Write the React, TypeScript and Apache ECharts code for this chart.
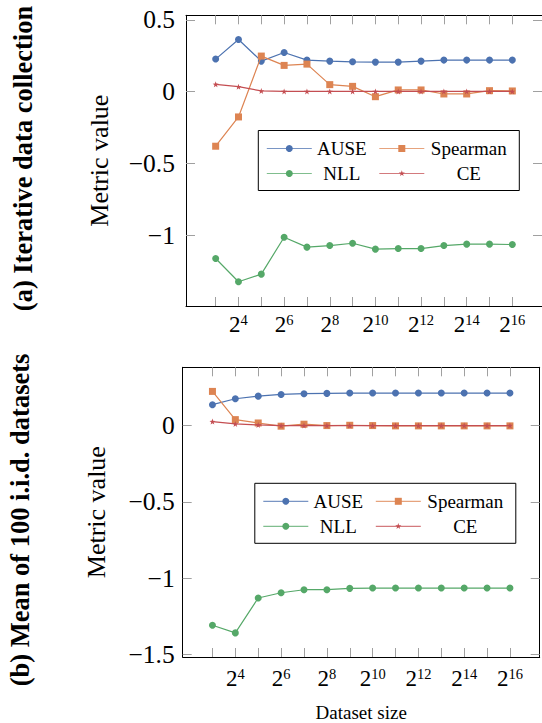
import React, { useEffect, useRef } from "react";
import * as echarts from "echarts";

const exps = [3, 4, 5, 6, 7, 8, 9, 10, 11, 12, 13, 14, 15, 16];
const xTickValues = [3, 4, 5, 6, 7, 8, 9, 10, 11, 12, 13, 14, 15, 16];
const xLabelValues = [4, 6, 8, 10, 12, 14, 16];
const yTicksTop = [0.5, 0, -0.5, -1];
const yTicksBottom = [0, -0.5, -1, -1.5];

const seriesNames = ["AUSE", "Spearman", "NLL", "CE"];
const colors = ["#4C72B0", "#DD8452", "#55A868", "#C44E52"];

// (a) Iterative data collection
const topAUSE = [0.227, 0.363, 0.213, 0.273, 0.22, 0.213, 0.208, 0.206, 0.206, 0.213, 0.22, 0.22, 0.22, 0.22];
const topSpearman = [-0.38, -0.176, 0.248, 0.183, 0.192, 0.049, 0.037, -0.035, 0.012, 0.012, -0.016, -0.016, 0.007, 0.005];
const topNLL = [-1.162, -1.324, -1.271, -1.014, -1.083, -1.072, -1.056, -1.097, -1.093, -1.093, -1.072, -1.062, -1.062, -1.065];
const topCE = [0.051, 0.035, 0.005, 0.002, 0.002, 0.002, 0.002, 0.002, 0.002, 0.002, 0.002, 0.002, 0.002, 0.002];

// (b) Mean of 100 i.i.d. datasets
const botAUSE = [0.137, 0.176, 0.193, 0.204, 0.209, 0.211, 0.213, 0.213, 0.213, 0.213, 0.213, 0.213, 0.213, 0.213];
const botSpearman = [0.224, 0.039, 0.017, -0.004, 0.009, 0.0, 0.002, 0.0, -0.002, -0.002, -0.002, -0.002, -0.002, -0.002];
const botNLL = [-1.309, -1.359, -1.13, -1.096, -1.076, -1.076, -1.067, -1.065, -1.065, -1.065, -1.065, -1.065, -1.065, -1.065];
const botCE = [0.026, 0.011, 0.004, 0.0, 0.0, 0.0, 0.0, 0.0, 0.0, 0.0, 0.0, 0.0, 0.0, 0.0];

const SERIF = "'Liberation Serif', 'DejaVu Serif', serif";
const STAR =
  "path://M0,-10 L2.35,-3.24 L9.51,-3.09 L3.8,1.24 L5.88,8.09 L0,4 L-5.88,8.09 L-3.8,1.24 L-9.51,-3.09 L-2.35,-3.24 Z";
const symbols = ["circle", "rect", "circle", STAR];
const symbolSizes = [7, 7, 7, 6];

function fmtY(v: number) {
  if (v === 0) return "0";
  return String(v).replace("-", "\u2212");
}

function makeXAxes(grid: number, labelMargin: number, withName: boolean) {
  const tickStyle = { show: true, inside: true, length: 9, lineStyle: { color: "#a0a0a0", width: 1 }, customValues: xTickValues };
  return [
    {
      type: "value",
      gridIndex: grid,
      position: "bottom",
      min: 1.7,
      max: 17.3,
      axisLine: { show: true, onZero: false, lineStyle: { color: "#000", width: 1 } },
      axisTick: tickStyle,
      splitLine: { show: false },
      axisLabel: {
        show: true,
        margin: labelMargin,
        customValues: xLabelValues,
        formatter: (v: number) => `{b|2}{s|${v}}`,
        rich: {
          b: { fontFamily: SERIF, fontSize: 23, color: "#000", lineHeight: 24, verticalAlign: "bottom" },
          s: { fontFamily: SERIF, fontSize: 14.5, color: "#000", lineHeight: 14, verticalAlign: "top" },
        },
      },
      name: withName ? "Dataset size" : "",
      nameLocation: "middle",
      nameGap: 46,
      nameTextStyle: { fontFamily: SERIF, fontSize: 19, color: "#000" },
    },
    {
      type: "value",
      gridIndex: grid,
      position: "top",
      min: 1.7,
      max: 17.3,
      axisLine: { show: true, onZero: false, lineStyle: { color: "#000", width: 1 } },
      axisTick: tickStyle,
      splitLine: { show: false },
      axisLabel: { show: false },
    },
  ];
}

function makeYAxes(grid: number, min: number, max: number, ticks: number[], labelMargin: number, nameGap: number) {
  const tickStyle = { show: true, inside: true, length: 9, lineStyle: { color: "#a0a0a0", width: 1 }, customValues: ticks };
  return [
    {
      type: "value",
      gridIndex: grid,
      position: "left",
      min,
      max,
      axisLine: { show: true, onZero: false, lineStyle: { color: "#000", width: 1 } },
      axisTick: tickStyle,
      splitLine: { show: false },
      axisLabel: {
        show: true,
        margin: labelMargin,
        customValues: ticks,
        formatter: fmtY,
        fontFamily: SERIF,
        fontSize: 25.5,
        color: "#000",
      },
      name: "Metric value",
      nameLocation: "middle",
      nameRotate: 90,
      nameGap,
      nameTextStyle: { fontFamily: SERIF, fontSize: 26, color: "#000" },
    },
    {
      type: "value",
      gridIndex: grid,
      position: "right",
      min,
      max,
      axisLine: { show: true, onZero: false, lineStyle: { color: "#000", width: 1 } },
      axisTick: tickStyle,
      splitLine: { show: false },
      axisLabel: { show: false },
    },
  ];
}

function makeSeries(grid: number, arrays: number[][]) {
  return arrays.map((vals, i) => ({
    type: "line",
    name: seriesNames[i],
    xAxisIndex: grid * 2,
    yAxisIndex: grid * 2,
    data: exps.map((e, j) => [e, vals[j]]),
    symbol: symbols[i],
    symbolSize: symbolSizes[i],
    showAllSymbol: true,
    lineStyle: { color: colors[i], width: 1.2 },
    itemStyle: { color: colors[i] },
    z: 2 + i,
  }));
}

function starPoints(cx: number, cy: number, r: number) {
  const pts: number[][] = [];
  for (let k = 0; k < 10; k++) {
    const rr = k % 2 === 0 ? r : r * 0.4;
    const a = -Math.PI / 2 + (k * Math.PI) / 5;
    pts.push([cx + rr * Math.cos(a), cy + rr * Math.sin(a)]);
  }
  return pts;
}

function makeLegend(x: number, y: number) {
  const children: any[] = [
    { type: "rect", shape: { x: 0, y: 0, width: 261, height: 60 }, style: { fill: "#fff", stroke: "#000", lineWidth: 1 } },
  ];
  const cols = [
    { l0: 8.5, l1: 53.5, m: 31, t: 83.5 },
    { l0: 121, l1: 166, m: 143.5, t: 210.5 },
  ];
  const rows = [18, 43];
  seriesNames.forEach((name, i) => {
    const c = cols[i % 2];
    const ry = rows[Math.floor(i / 2)];
    children.push({
      type: "line",
      shape: { x1: c.l0, y1: ry, x2: c.l1, y2: ry },
      style: { stroke: colors[i], lineWidth: 1.2, opacity: 0.75 },
    });
    if (i === 0 || i === 2) {
      children.push({ type: "circle", shape: { cx: c.m, cy: ry, r: 3.5 }, style: { fill: colors[i] } });
    } else if (i === 1) {
      children.push({ type: "rect", shape: { x: c.m - 3.5, y: ry - 3.5, width: 7, height: 7 }, style: { fill: colors[i] } });
    } else {
      children.push({ type: "polygon", shape: { points: starPoints(c.m, ry, 3.2) }, style: { fill: colors[i] } });
    }
    children.push({
      type: "text",
      x: c.t,
      y: ry,
      style: { text: name, fontFamily: SERIF, fontSize: 19, fill: "#000", textAlign: "center", textVerticalAlign: "middle" },
    });
  });
  return { type: "group", x, y, z: 100, children };
}

export default function App() {
  const ref = useRef<HTMLDivElement>(null);
  useEffect(() => {
    if (!ref.current) return;
    const chart = echarts.init(ref.current, undefined, { renderer: "svg" });
    chart.setOption({
      animation: false,
      backgroundColor: "#fff",
      grid: [
        { left: 186, top: 15.3, width: 358, height: 290.7 },
        { left: 182.7, top: 367.3, width: 357, height: 291.2 },
      ],
      xAxis: [...makeXAxes(0, 6, false), ...makeXAxes(1, 9, true)],
      yAxis: [
        ...makeYAxes(0, -1.493, 0.532, yTicksTop, 11, 74),
        ...makeYAxes(1, -1.517, 0.382, yTicksBottom, 8, 73),
      ],
      series: [
        ...makeSeries(0, [topAUSE, topSpearman, topNLL, topCE]),
        ...makeSeries(1, [botAUSE, botSpearman, botNLL, botCE]),
      ],
      graphic: [
        makeLegend(258.3, 130.5),
        makeLegend(254.8, 483.3),
        {
          type: "text",
          x: 22.5,
          y: 158.5,
          rotation: Math.PI / 2,
          style: {
            text: "(a) Iterative data collection",
            fontFamily: SERIF,
            fontWeight: "bold",
            fontSize: 26.5,
            fill: "#000",
            textAlign: "center",
            textVerticalAlign: "middle",
          },
        },
        {
          type: "text",
          x: 20,
          y: 520,
          rotation: Math.PI / 2,
          style: {
            text: "(b) Mean of 100 i.i.d. datasets",
            fontFamily: SERIF,
            fontWeight: "bold",
            fontSize: 26.5,
            fill: "#000",
            textAlign: "center",
            textVerticalAlign: "middle",
          },
        },
      ],
    });
    return () => chart.dispose();
  }, []);
  return (
    <div
      ref={ref}
      style={{ position: "absolute", left: 0, top: 0, width: 542, height: 723, overflow: "hidden" }}
    />
  );
}
